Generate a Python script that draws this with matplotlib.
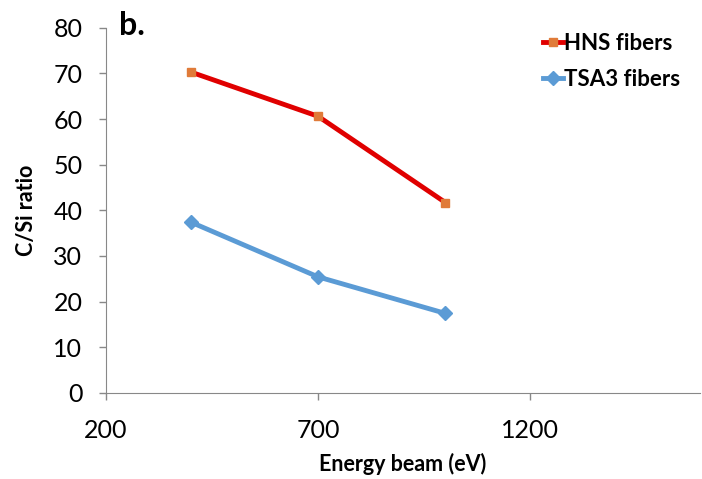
import matplotlib.pyplot as plt

plt.rcParams["font.family"] = ["Lato", "DejaVu Sans"]

# data
energy = [400, 700, 1000]
hns = [70.3, 60.6, 41.7]
tsa3 = [37.4, 25.4, 17.4]

fig = plt.figure(figsize=(7.02, 4.79), dpi=100, facecolor='white')
ax = fig.add_axes([0.151, 0.180, 0.846, 0.762])

ax.plot(energy, hns, color='#e00000', linewidth=3.5, marker='s', markersize=6,
        markerfacecolor='#e07b39', markeredgecolor='#e07b39', label='HNS fibers')
ax.plot(energy, tsa3, color='#5b9bd5', linewidth=3.5, marker='D', markersize=7,
        markerfacecolor='#5b9bd5', markeredgecolor='#5b9bd5', label='TSA3 fibers')

ax.set_xlim(200, 1600)
ax.set_ylim(0, 80)
ax.set_xticks([200, 700, 1200])
ax.set_yticks(range(0, 81, 10))
ax.tick_params(axis='both', labelsize=18, color='#888888', length=5, width=1)
ax.tick_params(axis='x', pad=14)
ax.tick_params(axis='y', pad=12)

for s in ['top', 'right']:
    ax.spines[s].set_visible(False)
for s in ['left', 'bottom']:
    ax.spines[s].set_color('#888888')

ax.set_xlabel('Energy beam (eV)', fontsize=15.5, fontweight='bold', labelpad=8)
ax.set_ylabel('C/Si ratio', fontsize=15.5, fontweight='bold', labelpad=12)

fig.text(0.17, 0.947, 'b.', fontsize=23, fontweight='bold', va='center')

ax.legend(loc='upper right', bbox_to_anchor=(1.0, 1.04), frameon=False,
          prop={'size': 16, 'weight': 'bold'}, handlelength=0.9,
          handletextpad=0.05, labelspacing=0.65)

plt.savefig('out.png', dpi=100)
